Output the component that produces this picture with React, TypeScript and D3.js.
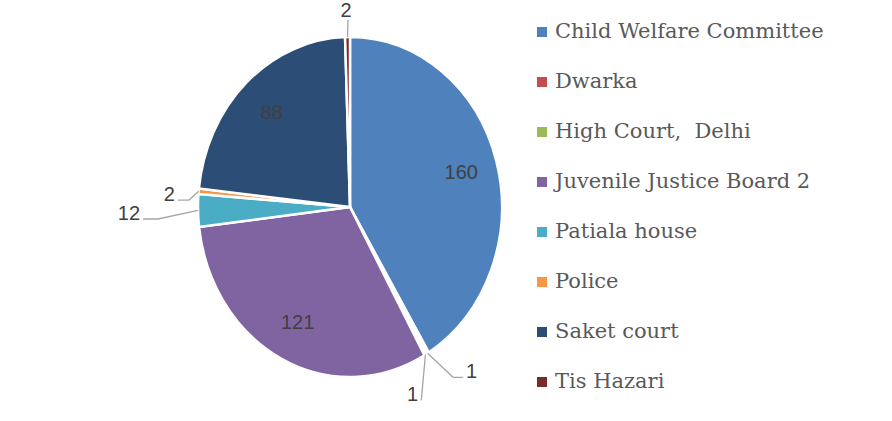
import React, { useEffect, useRef } from "react";
import * as d3 from "d3";

const categories = [
  "Child Welfare Committee",
  "Dwarka",
  "High Court,  Delhi",
  "Juvenile Justice Board 2",
  "Patiala house",
  "Police",
  "Saket court",
  "Tis Hazari",
];
const values = [160, 1, 1, 121, 12, 2, 88, 2];
const colors = ["#4f81bd", "#c0504d", "#9bbb59", "#8064a2", "#4bacc6", "#f79646", "#2c4d75", "#772c2a"];

// outside labels: elbow angle (deg, clockwise from top), elbow radius (fraction), horizontal tail, text side
const outside: Record<number, { a: number; k: number; tail: number; side: string }> = {
  1: { a: 145.9, k: 1.21, tail: 10, side: "right" },
  2: { a: 157.6, k: 1.23, tail: 0, side: "left" },
  4: { a: 266.8, k: 1.265, tail: -15, side: "left" },
  5: { a: 272.2, k: 1.06, tail: -11, side: "left" },
  7: { a: 359.3, k: 1.1, tail: 0, side: "top" },
};

const W = 892;
const H = 421;
const cx = 350;
const cy = 207;
const rx = 152;
const ry = 170;

export default function App() {
  const ref = useRef<SVGSVGElement>(null);

  useEffect(() => {
    const svg = d3.select(ref.current);
    svg.selectAll("*").remove();

    const pie = d3.pie<number>().sort(null).value((d) => d);
    const arcs = pie(values);
    const arc = d3.arc<d3.PieArcDatum<number>>().innerRadius(0).outerRadius(rx);

    const g = svg.append("g").attr("transform", `translate(${cx},${cy}) scale(1,${ry / rx})`);
    g.selectAll("path")
      .data(arcs)
      .join("path")
      .attr("d", arc)
      .attr("fill", (d, i) => colors[i])
      .attr("stroke", "#fff")
      .attr("stroke-width", 2.5)
      .attr("vector-effect", "non-scaling-stroke");

    const pt = (ang: number, k: number) => [cx + Math.sin(ang) * rx * k, cy - Math.cos(ang) * ry * k];

    const labels = svg.append("g").style("font-family", "'Liberation Sans', Arial, sans-serif").style("font-size", "20px").attr("fill", "#404040");

    arcs.forEach((d, i) => {
      const mid = (d.startAngle + d.endAngle) / 2;
      const o = outside[i];
      if (!o) {
        const [x, y] = pt(mid, 0.76);
        labels.append("text").attr("x", x).attr("y", y).attr("text-anchor", "middle").attr("dy", "0.35em").text(values[i]);
        return;
      }
      const [sx, sy] = pt(mid, 1.0);
      const [ex, ey] = pt((o.a * Math.PI) / 180, o.k);
      const tx = ex + o.tail;
      labels.append("polyline")
        .attr("points", `${sx},${sy} ${ex},${ey} ${tx},${ey}`)
        .attr("fill", "none")
        .attr("stroke", "#a6a6a6")
        .attr("stroke-width", 1.3);
      const t = labels.append("text").text(values[i]);
      if (o.side === "right") t.attr("x", tx + 3).attr("y", ey + 1);
      else if (o.side === "left") t.attr("x", tx - 3).attr("y", ey + 1).attr("text-anchor", "end");
      else t.attr("x", ex - 2).attr("y", ey - 3).attr("text-anchor", "middle");
    });

    const legend = svg.append("g").attr("transform", "translate(537,27)");
    const rows = legend.selectAll("g").data(categories).join("g").attr("transform", (d, i) => `translate(0,${i * 50})`);
    rows.append("rect").attr("width", 10).attr("height", 10).attr("fill", (d, i) => colors[i]);
    rows.append("text")
      .attr("x", 18)
      .attr("y", 11)
      .attr("fill", "#595959")
      .style("font-family", "'DejaVu Serif', serif")
      .style("font-size", "21px")
      .style("white-space", "pre")
      .text((d) => d);
  }, []);

  return <svg ref={ref} width={W} height={H} style={{ position: "absolute", left: 0, top: 0, background: "#fff" }} />;
}
